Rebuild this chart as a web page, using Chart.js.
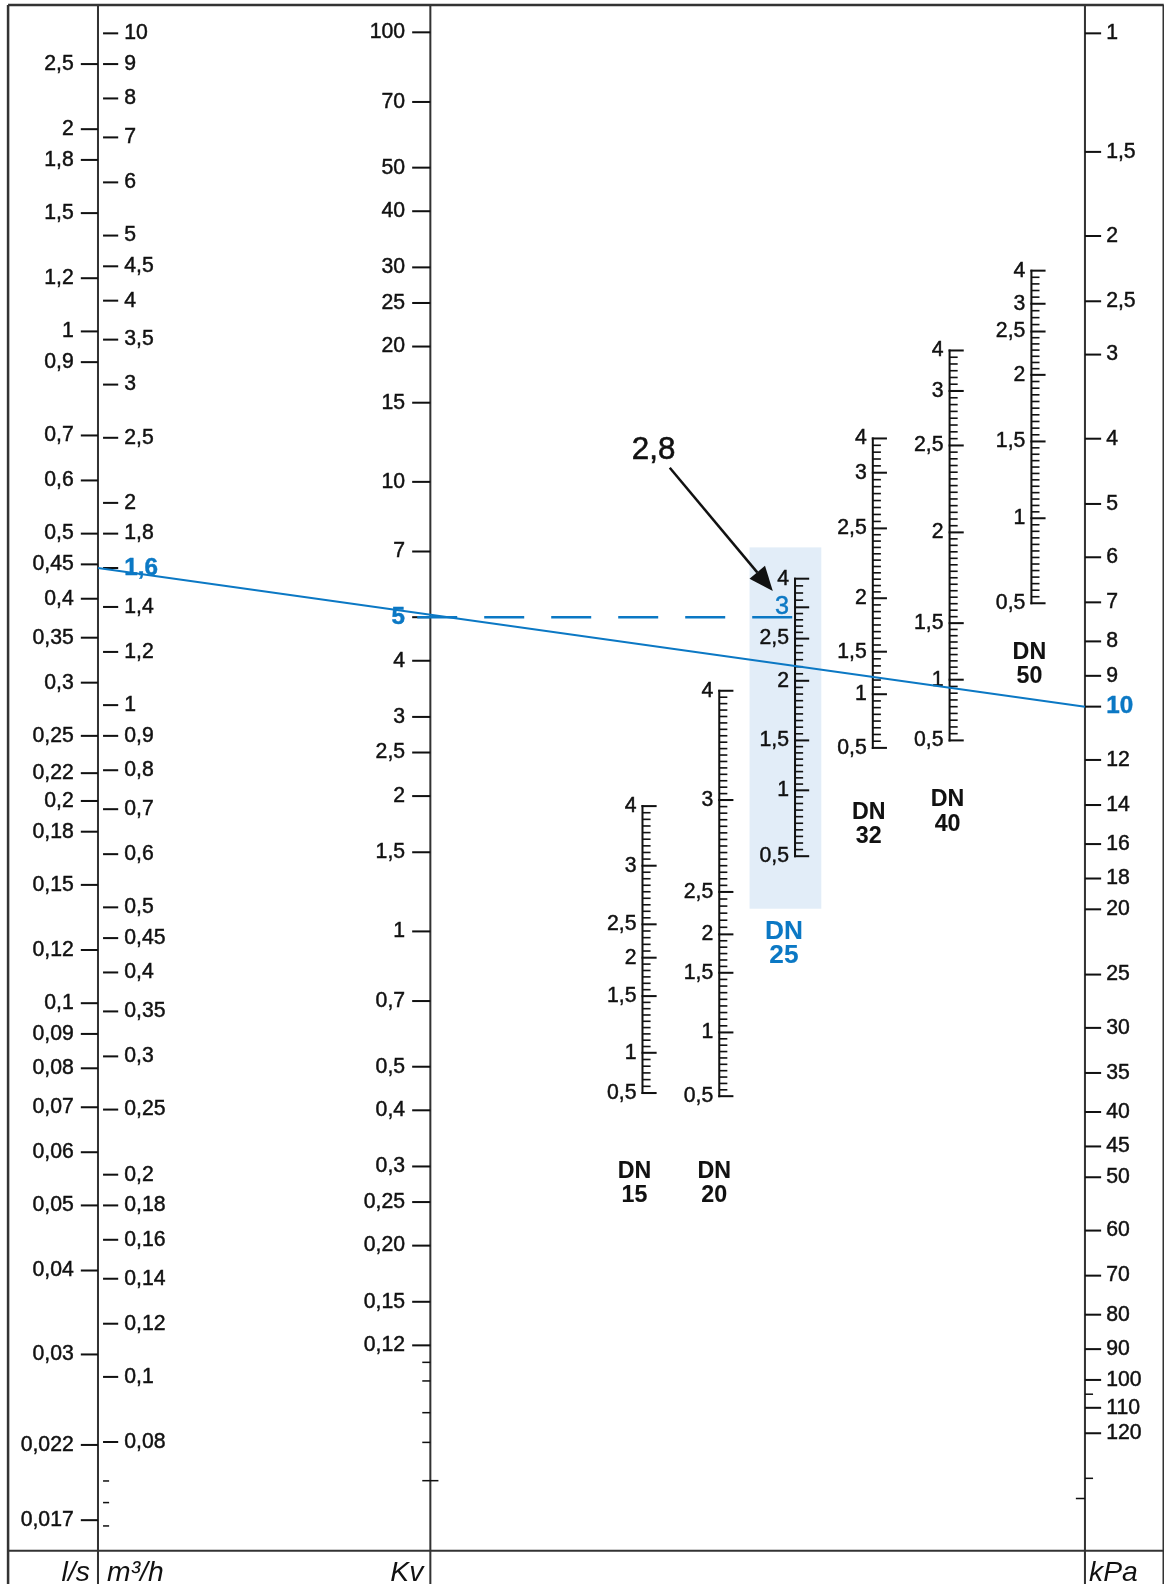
<!DOCTYPE html>
<html><head><meta charset="utf-8">
<script src="https://cdn.jsdelivr.net/npm/chart.js@4.4.1/dist/chart.umd.min.js"></script>
<style>html,body{margin:0;padding:0;background:#fff;overflow:hidden;width:1164px;height:1584px}canvas{display:block}</style>
</head><body>
<canvas id="c" width="1164" height="1584"></canvas>
<script>
// ---------------- DATA ----------------
const lsTicks   = [2.5,2,1.8,1.5,1.2,1,0.9,0.7,0.6,0.5,0.45,0.4,0.35,0.3,0.25,0.22,0.2,0.18,0.15,0.12,0.1,0.09,0.08,0.07,0.06,0.05,0.04,0.03,0.022,0.017];
const m3hTicks  = [10,9,8,7,6,5,4.5,4,3.5,3,2.5,2,1.8,1.6,1.4,1.2,1,0.9,0.8,0.7,0.6,0.5,0.45,0.4,0.35,0.3,0.25,0.2,0.18,0.16,0.14,0.12,0.1,0.08];
const m3hMinor  = [0.07,0.065,0.06];
const kvTicks   = [100,70,50,40,30,25,20,15,10,7,5,4,3,2.5,2,1.5,1,0.7,0.5,0.4,0.3,0.25,0.2,0.15,0.12];
const kvLabels  = ['100','70','50','40','30','25','20','15','10','7','5','4','3','2,5','2','1,5','1','0,7','0,5','0,4','0,3','0,25','0,20','0,15','0,12'];
const kvMinor   = [0.11,0.1,0.085,0.073,0.06];
const kpaTicks  = [1,1.5,2,2.5,3,4,5,6,7,8,9,10,12,14,16,18,20,25,30,35,40,45,50,60,70,80,90,100,110,120];
const kpaMinor  = [105,140,150];
const dnNames   = ['15','20','25','32','40','50'];
const dnSettings = [4,3,2.5,2,1.5,1,0.5];
// Kv value at each presetting (same order as dnSettings)
const dn15Kv = [1.90,1.40,1.037,0.874,0.718,0.537,0.437];
const dn20Kv = [3.43,1.96,1.224,0.985,0.809,0.596,0.430];
const dn25Kv = [6.09,5.26,4.48,3.61,2.66,2.06,1.47];
const dn32Kv = [12.49,10.48,7.88,5.51,4.19,3.37,2.56];
const dn40Kv = [19.6,15.93,12.05,7.72,4.85,3.63,2.66];
const dn50Kv = [29.5,24.9,21.6,17.3,12.3,8.30,5.37];
const dnKv = [dn15Kv,dn20Kv,dn25Kv,dn32Kv,dn40Kv,dn50Kv];
// worked example
const flowM3h = 1.6, kvSel = 5, dpKpa = 10, settingSel = '2,8', selDN = 2, selSettingLabel = 3;

// ---------------- LAYOUT ----------------
const W = 1164, H = 1584;
const K = 1584 / 1568;            // drawing unit -> canvas pixel
const WR = W / K, HR = H / K;     // canvas size in drawing units
const AX_Q = 97, AX_KV = 426, AX_P = 1074;
const DN_X = [636, 712, 787, 864, 940, 1021];
const DN_LBL_X = [628, 707, 776, 860, 938, 1019];
const DN_LBL_Y = [1160, 1160, 922, 804, 792, 646];
const BLUE = '#0b78c4', INK = '#111111', LINE = '#333333';
const FONT = '"Liberation Sans", Arial, sans-serif';
const fmt = v => String(v).replace('.', ',');

function text(ctx, s, x, y, align, font, color, heavy) {
  ctx.font = font; ctx.fillStyle = color || INK;
  ctx.textAlign = align; ctx.textBaseline = 'middle';
  ctx.fillText(s, x, y);
  ctx.lineWidth = heavy || 0.45; ctx.strokeStyle = color || INK;
  ctx.strokeText(s, x, y);
}
function seg(ctx, x1, y1, x2, y2, w, color) {
  ctx.beginPath(); ctx.moveTo(x1, y1); ctx.lineTo(x2, y2);
  ctx.lineWidth = w; ctx.strokeStyle = color || INK; ctx.stroke();
}

const nomo = {
  id: 'nomo',
  beforeDatasetsDraw(chart) {
    const ctx = chart.ctx, s = chart.scales;
    const yQ = v => s.yQ.getPixelForValue(v) / K, yLs = v => s.yLs.getPixelForValue(v) / K;
    const yKv = v => s.yKv.getPixelForValue(v) / K, yP = v => s.yP.getPixelForValue(v) / K;
    ctx.save();
    ctx.scale(K, K);
    ctx.fillStyle = '#fff'; ctx.fillRect(0, 0, WR, HR);
    // highlight of selected DN
    const dx = DN_X[selDN];
    const top = yKv(dnKv[selDN][0]) - 31, bot = yKv(dnKv[selDN][6]) + 52;
    ctx.fillStyle = '#e2edf8';
    ctx.fillRect(dx - 45, top, 71, bot - top);
    // frame
    ctx.lineCap = 'butt';
    seg(ctx, 8, 5, 1152, 5, 2.5, LINE);
    seg(ctx, 8, 5, 8, HR, 2.5, LINE);
    seg(ctx, 1152, 5, 1152, HR, 2.5, LINE);
    seg(ctx, 8, 1535, 1152, 1535, 2, LINE);
    seg(ctx, AX_Q, 5, AX_Q, HR, 2, LINE);
    seg(ctx, AX_KV, 5, AX_KV, HR, 2, LINE);
    seg(ctx, AX_P, 5, AX_P, HR, 2, LINE);
    const F = '21px ' + FONT, FB = 'bold 24px ' + FONT;
    // l/s
    lsTicks.forEach(v => { const y = yLs(v); seg(ctx, 80, y, AX_Q, y, 2); text(ctx, fmt(v), 73, y, 'right', F); });
    // m3/h
    m3hTicks.forEach(v => {
      const y = yQ(v); seg(ctx, 102, y, 117, y, 2);
      if (v === flowM3h) text(ctx, fmt(v), 123, y, 'left', FB, BLUE);
      else text(ctx, fmt(v), 123, y, 'left', F);
    });
    m3hMinor.forEach(v => { const y = yQ(v); seg(ctx, 102, y, 108, y, 1.5); });
    // Kv
    kvTicks.forEach((v, i) => {
      const y = yKv(v); seg(ctx, 408, y, AX_KV, y, 2);
      if (v === kvSel) text(ctx, kvLabels[i], 401, y, 'right', FB, BLUE);
      else text(ctx, kvLabels[i], 401, y, 'right', F);
    });
    kvMinor.forEach((v, i) => { const y = yKv(v); seg(ctx, 418, y, i === kvMinor.length - 1 ? 434 : AX_KV, y, 1.5); });
    // kPa
    kpaTicks.forEach(v => {
      const y = yP(v); seg(ctx, AX_P, y, 1090, y, 2);
      if (v === dpKpa) text(ctx, fmt(v), 1095, y, 'left', FB, BLUE);
      else text(ctx, fmt(v), 1095, y, 'left', F);
    });
    kpaMinor.forEach((v, i) => { const y = yP(v); if (i === kpaMinor.length - 1) seg(ctx, AX_P - 9, y, AX_P, y, 1.5); else seg(ctx, AX_P, y, AX_P + 8, y, 1.5); });
    // DN scales
    dnKv.forEach((kvs, d) => {
      const x = DN_X[d];
      const ys = kvs.map(yKv);
      seg(ctx, x, ys[0] - 1, x, ys[ys.length - 1] + 1, 2);
      ys.forEach((y, i) => {
        seg(ctx, x - 1, y, x + 14, y, 2);
        const hi = (d === selDN && dnSettings[i] === selSettingLabel);
        text(ctx, fmt(dnSettings[i]), x - 6, y, 'right', hi ? '25px ' + FONT : F, hi ? BLUE : INK);
      });
      for (let i = 0; i < kvs.length - 1; i++) {
        const gap = Math.abs(ys[i + 1] - ys[i]);
        const n = Math.max(1, Math.round(gap / 6.5));
        const l0 = Math.log10(kvs[i]), l1 = Math.log10(kvs[i + 1]);
        for (let k = 1; k < n; k++) {
          const y = yKv(Math.pow(10, l0 + (l1 - l0) * k / n));
          seg(ctx, x, y, x + 8, y, 1.6);
        }
      }
      const dcol = d === selDN ? BLUE : INK;
      const df = d === selDN ? 'bold 26px ' + FONT : 'bold 23px ' + FONT;
      text(ctx, 'DN', DN_LBL_X[d], DN_LBL_Y[d], 'center', df, dcol, 0.1);
      text(ctx, dnNames[d], DN_LBL_X[d], DN_LBL_Y[d] + 24, 'center', df, dcol, 0.1);
    });
    // solution line  Q -> dp
    seg(ctx, AX_Q, yQ(flowM3h), AX_P, yP(dpKpa), 2, BLUE);
    // axis titles
    ctx.textBaseline = 'alphabetic';
    ctx.font = 'italic 28px ' + FONT; ctx.fillStyle = INK;
    ctx.textAlign = 'right'; ctx.fillText('l/s', 89, 1565);
    ctx.textAlign = 'left'; ctx.fillText('m³/h', 106, 1565);
    ctx.textAlign = 'right'; ctx.fillText('Kv', 419, 1565);
    ctx.textAlign = 'left'; ctx.fillText('kPa', 1078, 1565);
    ctx.restore();
  },
  afterDatasetsDraw(chart) {
    const ctx = chart.ctx, s = chart.scales;
    const yKv = v => s.yKv.getPixelForValue(v) / K;
    ctx.save();
    ctx.scale(K, K);
    const tx = DN_X[selDN] - 22, ty = yKv(kvSel) - 26;
    const sx = 663, sy = 463;
    const ang = Math.atan2(ty - sy, tx - sx);
    const hl = 24, hw = 10;
    const bx = tx - hl * Math.cos(ang), by = ty - hl * Math.sin(ang);
    seg(ctx, sx, sy, bx, by, 2.5, INK);
    ctx.beginPath();
    ctx.moveTo(tx, ty);
    ctx.lineTo(bx + hw * Math.sin(ang), by - hw * Math.cos(ang));
    ctx.lineTo(bx - hw * Math.sin(ang), by + hw * Math.cos(ang));
    ctx.closePath(); ctx.fillStyle = INK; ctx.fill();
    text(ctx, settingSel, 647, 446, 'center', '31px ' + FONT, INK, 0.6);
    ctx.restore();
  }
};

const logScale = (min, max, reverse) => ({ type: 'logarithmic', min, max, reverse: !!reverse, display: false, bounds: 'data' });
const qMax = Math.pow(10, 1 + 33 / 665), qMin = Math.pow(10, 1 - (HR - 33) / 665);

new Chart(document.getElementById('c'), {
  type: 'scatter',
  data: {
    datasets: [{
      label: 'Kv selection',
      yAxisID: 'yKv',
      data: [{ x: AX_KV - 13, y: kvSel }, { x: DN_X[selDN] + 8, y: kvSel }],
      showLine: true, borderColor: BLUE, borderWidth: 2.5, borderDash: [40, 27],
      pointRadius: 0, fill: false
    }]
  },
  options: {
    responsive: false, animation: false, devicePixelRatio: 1,
    layout: { padding: 0 },
    plugins: { legend: { display: false }, tooltip: { enabled: false } },
    scales: {
      x: { type: 'linear', min: 0, max: WR, display: false },
      yQ: logScale(qMin, qMax),
      yLs: logScale(qMin / 3.6, qMax / 3.6),
      yKv: logScale(Math.pow(10, 2 - (HR - 32) / 445), Math.pow(10, 2 + 32 / 445)),
      yP: logScale(Math.pow(10, -33 / 666.5), Math.pow(10, (HR - 33) / 666.5), true)
    }
  },
  plugins: [nomo]
});
</script>
</body></html>
